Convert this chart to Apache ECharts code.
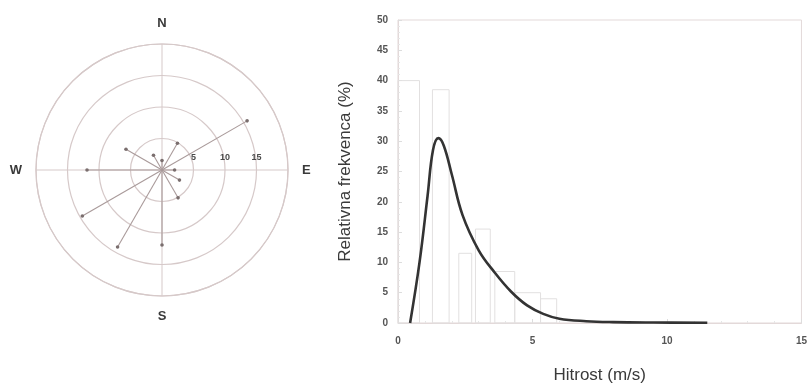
<!DOCTYPE html>
<html>
<head>
<meta charset="utf-8">
<script src="https://cdn.jsdelivr.net/npm/echarts@6/dist/echarts.min.js"></script>
<style>
  html, body { margin: 0; padding: 0; background: #ffffff; }
  #chart { width: 810px; height: 389px; }
</style>
</head>
<body>
<div id="chart"></div>
<script>
// Wind rose: compass bearing (deg) and relative frequency (%)
const windBearings = [0, 30, 60, 90, 120, 150, 180, 210, 240, 270, 300, 330];
const windFreq = [1.5, 4.9, 15.6, 2.0, 3.2, 5.1, 11.9, 14.1, 14.6, 11.9, 6.6, 2.7];
const compassNames = ['N', 'E', 'S', 'W'];
const compassBearings = [0, 90, 180, 270];
const ringValues = [5, 10, 15];

// Wind speed histogram: bin edges (m/s) and relative frequency (%)
const binStart = [0, 1.28, 2.26, 2.88, 3.6, 4.34, 5.3];
const binEnd = [0.8, 1.9, 2.74, 3.43, 4.34, 5.3, 5.9];
const binFreq = [40, 38.5, 11.5, 15.5, 8.5, 5, 4];

// Fitted speed distribution (m/s, %)
const fitSpeed = [0.45, 0.8, 1.1, 1.3, 1.5, 1.7, 2.0, 2.4, 3.0, 3.6, 4.2, 4.8, 5.4, 6.0, 7.0, 8.0, 9.5, 11.5];
const fitFreq = [0, 10, 21, 28.5, 30.5, 29.3, 24.5, 17.8, 12.0, 8.3, 5.2, 2.9, 1.5, 0.7, 0.3, 0.15, 0.08, 0.05];

const xTicks = [0, 5, 10, 15];
const yTicks = [0, 5, 10, 15, 20, 25, 30, 35, 40, 45, 50];

// Polar angle axis starts at east and runs clockwise, so a bearing maps to (b + 270) % 360
const toAngle = b => (b + 270) % 360;
const angleName = {};
compassBearings.forEach((b, i) => { angleName[toAngle(b)] = compassNames[i]; });

const ringColor = '#d6c9c9';
const spokeColor = '#a99a9a';
const font = 'Liberation Sans, Arial, sans-serif';

const chart = echarts.init(document.getElementById('chart'), null, { renderer: 'canvas' });

chart.setOption({
  animation: false,
  backgroundColor: '#ffffff',
  polar: { center: [162, 170], radius: 126 },
  angleAxis: {
    type: 'value', min: 0, max: 360, interval: 90,
    startAngle: 0, clockwise: true,
    axisLine: { show: true, lineStyle: { color: ringColor, width: 1.2 } },
    axisTick: { show: false },
    splitLine: { show: true, lineStyle: { color: ringColor, width: 1 } },
    axisLabel: {
      margin: 14,
      formatter: v => angleName[v % 360] || '',
      fontFamily: font, fontSize: 13, fontWeight: 'bold', color: '#3a3a3a'
    }
  },
  radiusAxis: {
    type: 'value', min: 0, max: 20, interval: 5,
    axisLine: { show: false },
    axisTick: { show: false },
    splitLine: { show: true, lineStyle: { color: ringColor, width: 1.2 } },
    axisLabel: {
      margin: 8,
      formatter: v => ringValues.indexOf(v) >= 0 ? String(v) : '',
      fontFamily: font, fontSize: 9, fontWeight: 'bold', color: '#4a4a4a'
    }
  },
  grid: {
    left: 398, right: 5, top: 20, bottom: 64,
    show: true, borderColor: '#e3d9d9', borderWidth: 1
  },
  xAxis: {
    type: 'value', min: 0, max: 15, interval: 5,
    name: 'Hitrost (m/s)', nameLocation: 'middle', nameGap: 44,
    nameTextStyle: { fontFamily: font, fontSize: 17, color: '#3a3a3a' },
    axisLine: { show: true, lineStyle: { color: '#e3d9d9' } },
    axisTick: { show: true, inside: true, length: 4, lineStyle: { color: '#ddd' } },
    minorTick: { show: true, splitNumber: 5, length: 2, lineStyle: { color: '#e6e6e6' } },
    splitLine: { show: false },
    axisLabel: {
      margin: 13,
      formatter: v => xTicks.indexOf(v) >= 0 ? String(v) : '',
      fontFamily: font, fontSize: 10, fontWeight: 'bold', color: '#555'
    }
  },
  yAxis: {
    type: 'value', min: 0, max: 50, interval: 5,
    name: 'Relativna frekvenca (%)', nameLocation: 'middle', nameGap: 44,
    nameTextStyle: { fontFamily: font, fontSize: 17, color: '#3a3a3a' },
    axisLine: { show: true, lineStyle: { color: '#e3d9d9' } },
    axisTick: { show: true, inside: true, length: 4, lineStyle: { color: '#ddd' } },
    minorTick: { show: true, splitNumber: 5, length: 2, lineStyle: { color: '#e6e6e6' } },
    splitLine: { show: false },
    axisLabel: {
      margin: 10,
      formatter: v => yTicks.indexOf(v) >= 0 ? String(v) : '',
      fontFamily: font, fontSize: 10, fontWeight: 'bold', color: '#555'
    }
  },
  series: [
    {
      // wind rose spokes with dot tips
      type: 'custom',
      coordinateSystem: 'polar',
      encode: { radius: 0, angle: 1 },
      data: windBearings.map((b, i) => [windFreq[i], toAngle(b)]),
      renderItem: (params, api) => {
        const r = api.value(0), a = api.value(1);
        const c = api.coord([0, a]);
        const p = api.coord([r, a]);
        return {
          type: 'group',
          children: [
            { type: 'line', shape: { x1: c[0], y1: c[1], x2: p[0], y2: p[1] },
              style: { stroke: spokeColor, lineWidth: 1.1 } },
            { type: 'circle', shape: { cx: p[0], cy: p[1], r: 1.8 },
              style: { fill: '#7a6e6e' } }
          ]
        };
      },
      z: 5
    },
    {
      // histogram bins
      type: 'custom',
      coordinateSystem: 'cartesian2d',
      data: binStart.map((s, i) => [s, binEnd[i], binFreq[i]]),
      renderItem: (params, api) => {
        const tl = api.coord([api.value(0), api.value(2)]);
        const br = api.coord([api.value(1), 0]);
        return {
          type: 'rect',
          shape: { x: tl[0], y: tl[1], width: br[0] - tl[0], height: br[1] - tl[1] },
          style: { fill: 'rgba(0,0,0,0)', stroke: '#e2e0e0', lineWidth: 1 }
        };
      },
      z: 2
    },
    {
      // fitted distribution curve
      type: 'line',
      data: fitSpeed.map((x, i) => [x, fitFreq[i]]),
      showSymbol: false,
      smooth: 0.4,
      lineStyle: { color: '#333', width: 2.6 },
      z: 4
    }
  ]
});
</script>
</body>
</html>
